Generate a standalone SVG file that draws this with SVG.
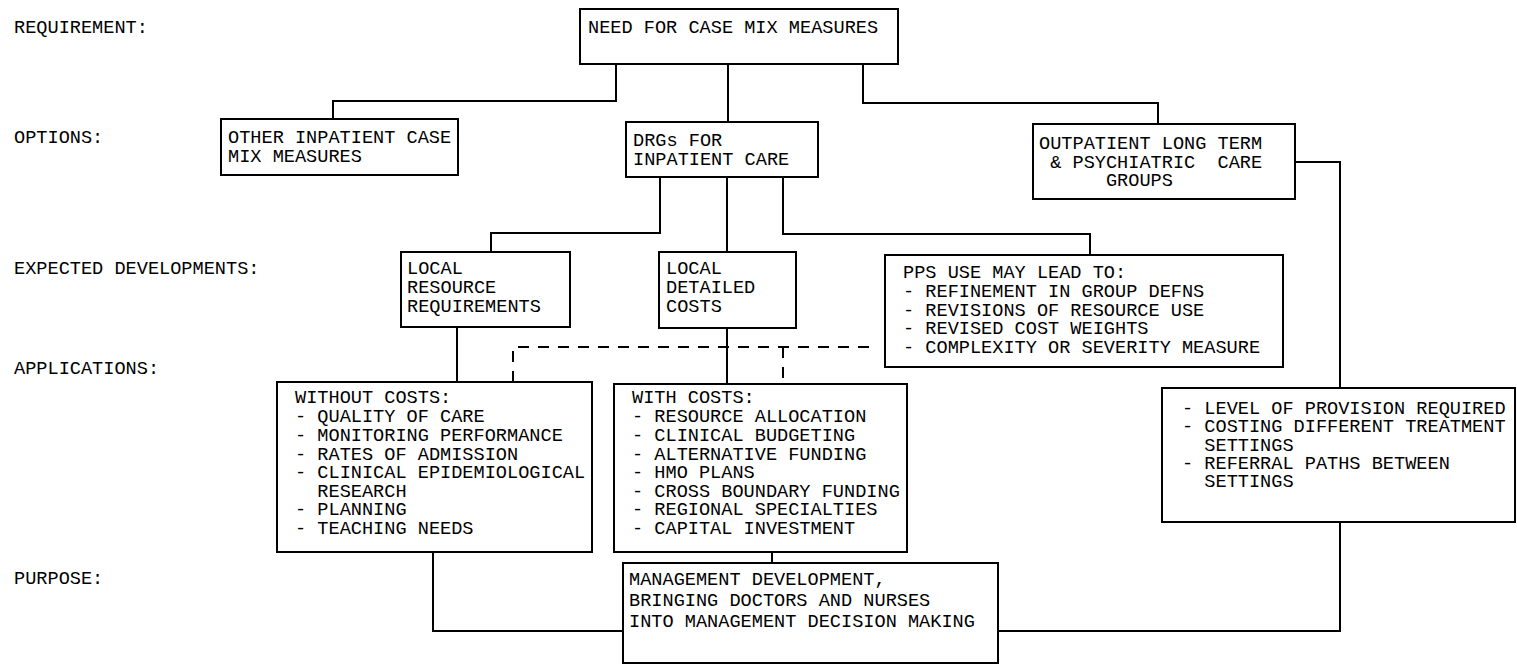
<svg xmlns="http://www.w3.org/2000/svg" width="1517" height="668" viewBox="0 0 1517 668">
<style>
text{font-family:"Liberation Mono","Courier New",monospace;font-size:18.6px;fill:#000;white-space:pre}
.box{fill:#fff;stroke:#000;stroke-width:2}
.con{fill:none;stroke:#000;stroke-width:2}
.dash{fill:none;stroke:#000;stroke-width:2;stroke-dasharray:11 9}
</style>
<rect width="1517" height="668" fill="#fff"/>
<g id="labels">
<text x="14" y="33">REQUIREMENT:</text>
<text x="14" y="143">OPTIONS:</text>
<text x="14" y="274">EXPECTED DEVELOPMENTS:</text>
<text x="14" y="374">APPLICATIONS:</text>
<text x="14" y="584">PURPOSE:</text>
</g>
<g id="connectors">
<path class="con" d="M616 64V101H333V119"/>
<path class="con" d="M728 64V122"/>
<path class="con" d="M863 64V103H1158V124"/>
<path class="con" d="M1295 162H1340V388"/>
<path class="con" d="M660 177V233H491V252"/>
<path class="con" d="M727 177V252"/>
<path class="con" d="M783 177V234H1090V255"/>
<path class="con" d="M457 327V382"/>
<path class="con" d="M727 328V384"/>
<path class="dash" d="M513 382V347H870"/>
<path class="dash" d="M783 347V384"/>
<path class="con" d="M433 552V631H623"/>
<path class="con" d="M772 552V563"/>
<path class="con" d="M1340 522V631H998"/>
</g>
<g id="n-need">
<rect class="box" x="580" y="9" width="318" height="55"/>
<text x="588" y="33">NEED FOR CASE MIX MEASURES</text>
</g>
<g id="n-other">
<rect class="box" x="221" y="119" width="237" height="56"/>
<text x="228" y="143">OTHER INPATIENT CASE</text>
<text x="228" y="162">MIX MEASURES</text>
</g>
<g id="n-drgs">
<rect class="box" x="626" y="122" width="192" height="55"/>
<text x="633" y="146">DRGs FOR</text>
<text x="633" y="165">INPATIENT CARE</text>
</g>
<g id="n-outpatient">
<rect class="box" x="1033" y="124" width="262" height="75"/>
<text x="1039" y="149">OUTPATIENT LONG TERM</text>
<text x="1039" y="168"> &amp; PSYCHIATRIC  CARE</text>
<text x="1039" y="186">      GROUPS</text>
</g>
<g id="n-localres">
<rect class="box" x="401" y="252" width="169" height="75"/>
<text x="407" y="274">LOCAL</text>
<text x="407" y="293">RESOURCE</text>
<text x="407" y="312">REQUIREMENTS</text>
</g>
<g id="n-localdet">
<rect class="box" x="659" y="252" width="137" height="76"/>
<text x="666" y="274">LOCAL</text>
<text x="666" y="293">DETAILED</text>
<text x="666" y="312">COSTS</text>
</g>
<g id="n-pps">
<rect class="box" x="885" y="255" width="398" height="112"/>
<text x="903" y="278">PPS USE MAY LEAD TO:</text>
<text x="903" y="297">- REFINEMENT IN GROUP DEFNS</text>
<text x="903" y="316">- REVISIONS OF RESOURCE USE</text>
<text x="903" y="334">- REVISED COST WEIGHTS</text>
<text x="903" y="353">- COMPLEXITY OR SEVERITY MEASURE</text>
</g>
<g id="n-without">
<rect class="box" x="277" y="382" width="315" height="170"/>
<text x="295" y="403">WITHOUT COSTS:</text>
<text x="295" y="422">- QUALITY OF CARE</text>
<text x="295" y="441">- MONITORING PERFORMANCE</text>
<text x="295" y="460">- RATES OF ADMISSION</text>
<text x="295" y="478">- CLINICAL EPIDEMIOLOGICAL</text>
<text x="295" y="497">  RESEARCH</text>
<text x="295" y="515">- PLANNING</text>
<text x="295" y="534">- TEACHING NEEDS</text>
</g>
<g id="n-with">
<rect class="box" x="614" y="384" width="293" height="168"/>
<text x="632" y="403">WITH COSTS:</text>
<text x="632" y="422">- RESOURCE ALLOCATION</text>
<text x="632" y="441">- CLINICAL BUDGETING</text>
<text x="632" y="460">- ALTERNATIVE FUNDING</text>
<text x="632" y="478">- HMO PLANS</text>
<text x="632" y="497">- CROSS BOUNDARY FUNDING</text>
<text x="632" y="515">- REGIONAL SPECIALTIES</text>
<text x="632" y="534">- CAPITAL INVESTMENT</text>
</g>
<g id="n-outapps">
<rect class="box" x="1162" y="388" width="353" height="134"/>
<text x="1182" y="414">- LEVEL OF PROVISION REQUIRED</text>
<text x="1182" y="432">- COSTING DIFFERENT TREATMENT</text>
<text x="1182" y="451">  SETTINGS</text>
<text x="1182" y="469">- REFERRAL PATHS BETWEEN</text>
<text x="1182" y="487">  SETTINGS</text>
</g>
<g id="n-purpose">
<rect class="box" x="623" y="563" width="375" height="100"/>
<text x="629" y="585">MANAGEMENT DEVELOPMENT,</text>
<text x="629" y="606">BRINGING DOCTORS AND NURSES</text>
<text x="629" y="627">INTO MANAGEMENT DECISION MAKING</text>
</g>
</svg>
